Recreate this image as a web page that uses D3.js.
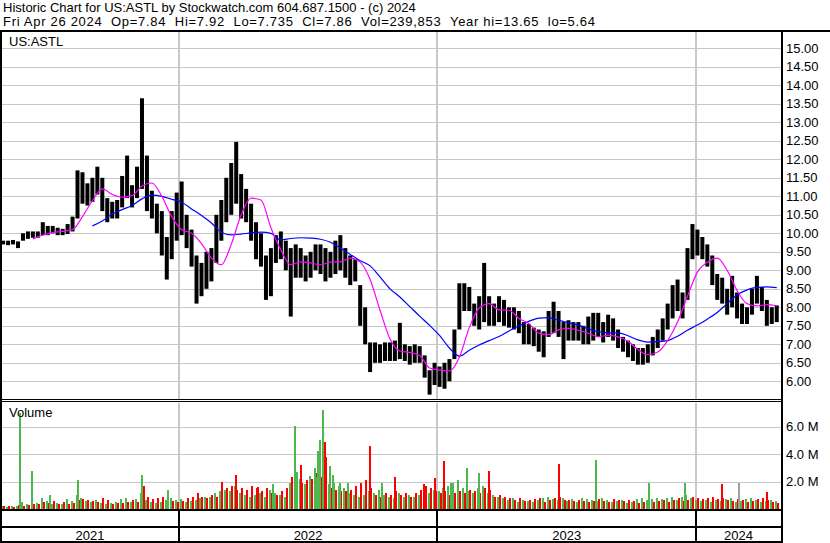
<!DOCTYPE html>
<html><head><meta charset="utf-8">
<script src="https://cdn.jsdelivr.net/npm/d3@7"></script>
<style>
html,body{margin:0;padding:0;background:#fff;}
svg{display:block;font-family:"Liberation Sans",Arial,sans-serif;}
</style></head><body>
<svg id="c" width="830" height="543"></svg>
<script>
// ---------------- DATA ----------------
const headerLines = [
  "Historic Chart for US:ASTL by Stockwatch.com 604.687.1500 - (c) 2024",
  "Fri Apr 26 2024\u00A0\u00A0Op=7.84\u00A0\u00A0Hi=7.92\u00A0\u00A0Lo=7.735\u00A0\u00A0Cl=7.86\u00A0\u00A0Vol=239,853\u00A0\u00A0Year hi=13.65\u00A0\u00A0lo=5.64"
];
const headerWidths = [null, 592];
const symbol = "US:ASTL";
const firstWeek = "2021-04-26";   // Monday of first weekly bar
const weekCount = 157;
const weekLow = [
 9.70,9.68,9.70,9.60,9.80,9.85,9.88,9.88,9.95,9.95,
 10.00,9.95,9.95,9.98,10.05,10.40,10.80,10.75,10.85,11.05,
 10.60,10.30,10.40,10.40,10.70,10.95,10.70,10.95,11.20,10.60,
 10.40,10.00,9.40,8.75,9.30,9.80,9.95,9.60,9.10,8.10,
 8.30,8.50,8.70,9.20,9.80,10.30,10.50,10.80,10.40,10.30,
 9.80,9.30,9.10,8.20,8.30,9.20,9.30,9.00,7.75,8.80,
 8.80,8.70,8.80,9.00,8.90,8.70,8.80,8.90,9.00,8.80,
 8.60,8.70,7.50,7.00,6.25,6.50,6.50,6.55,6.55,6.55,
 6.60,6.55,6.45,6.50,6.50,6.10,5.64,5.90,5.85,5.80,
 6.00,6.60,7.40,7.90,7.90,7.50,7.40,7.60,7.50,7.50,
 7.60,7.50,7.45,7.40,7.30,7.00,7.00,6.95,6.80,6.65,
 7.20,7.30,7.20,6.60,7.10,7.10,7.10,7.00,7.00,7.10,
 7.20,7.05,7.20,7.10,6.90,6.80,6.65,6.55,6.45,6.45,
 6.50,6.70,6.90,7.10,7.40,7.70,7.90,7.70,8.20,9.30,
 9.40,9.30,9.10,8.60,8.20,8.10,7.80,8.00,7.70,7.55,
 7.55,7.80,8.10,7.90,7.50,7.55,7.60];
const weekHigh = [
 9.80,9.80,9.82,9.78,10.00,10.05,10.05,10.05,10.30,10.20,
 10.20,10.15,10.12,10.25,10.45,11.70,11.65,11.35,11.50,11.80,
 11.50,10.95,10.85,10.90,11.55,12.10,11.30,11.80,13.65,12.10,
 11.15,10.80,10.60,9.90,10.60,11.10,11.40,10.50,10.10,9.40,
 9.20,9.50,9.60,10.50,10.90,11.50,11.90,12.47,11.60,11.20,
 10.80,10.30,10.00,9.40,9.60,9.95,10.05,9.80,9.60,9.70,
 9.60,9.40,9.50,9.70,9.70,9.60,9.50,9.80,9.95,9.60,
 9.40,9.30,8.60,8.00,7.05,7.05,7.00,7.05,7.05,7.10,
 7.58,7.00,6.95,7.00,6.95,6.70,6.30,6.50,6.40,6.50,
 6.60,7.40,8.65,8.65,8.55,8.10,8.30,9.20,8.30,8.10,
 8.30,8.20,8.00,8.00,7.90,7.60,7.55,7.45,7.40,7.35,
 7.90,8.15,7.90,7.60,7.65,7.60,7.60,7.50,7.75,7.85,
 7.85,7.60,7.80,7.70,7.40,7.20,7.10,7.00,6.90,6.90,
 7.00,7.20,7.40,7.70,8.10,8.60,8.75,8.40,9.60,10.25,
 10.10,9.90,9.70,9.40,8.90,8.80,8.50,8.85,8.40,8.10,
 8.00,8.50,8.85,8.55,8.20,8.00,8.05];
// typical daily volume (millions) on up days / down days, per week
const volUp = [
 0.20,0.15,0.25,0.20,0.50,0.40,0.65,0.45,0.80,0.60,
 0.40,0.45,0.40,0.70,0.60,1.05,0.80,0.60,0.50,0.65,
 0.45,0.40,0.45,0.50,0.70,0.80,0.50,0.70,1.15,0.65,
 0.50,0.45,0.50,0.65,0.80,0.65,0.70,0.50,0.60,0.65,
 0.80,0.90,0.85,1.15,1.30,1.40,1.30,1.70,1.15,1.05,
 0.90,1.05,1.15,0.90,1.40,1.15,1.05,0.90,1.90,2.10,
 2.20,1.80,2.40,3.00,2.60,2.30,1.80,1.90,1.70,1.55,
 1.15,1.05,0.90,1.05,1.30,1.15,1.40,1.05,0.90,0.80,
 1.15,0.90,1.05,0.90,1.05,0.90,1.15,1.40,1.30,1.55,
 1.70,1.90,2.10,1.55,1.30,1.15,1.55,1.70,1.15,1.05,
 0.90,0.80,0.65,0.80,0.50,0.65,0.60,0.50,0.65,0.80,
 0.90,0.70,0.65,0.80,0.60,0.70,0.50,0.80,0.70,0.65,
 0.60,0.80,0.65,0.50,0.60,0.65,0.45,0.50,0.70,0.80,
 0.65,0.70,0.80,0.70,0.80,0.90,0.65,0.85,1.05,0.80,
 0.65,0.60,0.65,0.50,0.65,0.60,0.70,0.80,0.50,0.60,
 0.70,0.80,0.65,0.50,0.60,0.65,0.60];
const volDown = [
 0.25,0.20,0.15,0.30,0.25,0.30,0.40,0.40,0.50,0.45,
 0.60,0.40,0.50,0.40,0.45,0.65,0.70,0.65,0.60,0.50,
 0.80,0.65,0.40,0.45,0.45,0.50,0.65,0.50,0.90,0.85,
 0.70,0.80,0.90,1.05,0.60,0.50,0.60,0.80,0.90,1.15,
 0.90,0.80,1.00,0.90,1.15,1.55,1.70,1.40,1.55,1.40,
 1.70,1.55,1.30,1.55,1.15,1.05,1.30,1.55,2.30,2.50,
 1.90,2.10,2.20,2.60,2.30,1.80,1.55,1.40,1.30,1.30,
 1.40,1.70,1.90,2.10,1.55,1.05,0.90,1.15,1.05,1.30,
 1.05,1.15,0.90,1.15,1.40,1.70,1.55,1.30,1.15,1.30,
 1.05,1.15,1.30,1.15,1.40,1.30,1.15,1.55,1.40,0.90,
 1.05,0.90,0.80,0.65,0.80,0.60,0.65,0.70,0.80,0.50,
 0.65,0.80,0.90,0.65,0.65,0.60,0.65,0.60,0.50,0.60,
 0.70,0.60,0.50,0.70,0.65,0.60,0.65,0.60,0.45,0.50,
 0.60,0.50,0.60,0.65,0.50,0.65,0.80,0.60,0.65,0.90,
 0.80,0.70,0.80,0.85,0.70,0.80,0.65,0.60,0.70,0.65,
 0.50,0.60,0.70,0.80,0.65,0.50,0.45];
// single-day volume spikes
const spikeDates = ["2021-05-21","2021-06-07","2021-07-02","2021-08-10","2021-11-09","2021-11-12","2021-12-15",
 "2022-03-02","2022-03-21","2022-04-21","2022-05-12","2022-06-13","2022-06-15","2022-06-21","2022-07-12",
 "2022-07-15","2022-07-18","2022-07-22","2022-07-25","2022-07-26","2022-08-01","2022-08-05","2022-08-15",
 "2022-08-26","2022-09-14","2022-09-26","2022-10-13","2022-11-01","2022-12-12","2022-12-27","2023-01-09",
 "2023-01-19","2023-02-10","2023-02-28","2023-03-14","2023-06-20","2023-08-11","2023-10-25","2023-12-15",
 "2024-02-06","2024-02-29","2024-04-09"];
const spikeVols = [7.0,2.8,1.05,2.1,2.45,1.7,1.35,
 2.0,2.45,1.6,1.85,6.07,2.7,3.2,2.3,
 4.2,5.05,7.2,4.9,3.75,3.1,2.5,1.9,
 1.9,1.9,4.6,1.9,2.35,1.8,2.25,3.5,
 1.9,3.0,2.6,2.8,3.25,3.55,1.9,1.9,
 1.85,1.9,1.25];
const spikeDirs = ["up","up","up","up","up","down","up",
 "down","down","down","up","up","up","down","up",
 "up","up","up","down","down","up","up","up",
 "up","down","down","up","down","down","down","down",
 "up","up","up","down","down","up","up","up",
 "down","flat","down"];
// moving averages, sampled every 2 weeks
const maShortFromWeek = 6;
const maShort = [
 9.85,9.95,10.02,10.05,10.10,10.45,10.88,11.20,11.05,10.98,
 11.02,11.28,11.36,11.00,10.45,10.10,10.00,9.72,9.33,9.15,
 9.70,10.50,10.95,10.90,10.15,9.55,9.15,9.23,9.20,9.15,
 9.22,9.23,9.33,9.22,8.75,7.92,7.15,6.82,6.78,6.70,
 6.36,6.30,6.28,6.65,7.45,7.98,8.10,7.93,7.92,7.70,
 7.56,7.30,7.26,7.39,7.43,7.38,7.30,7.20,7.25,7.20,
 7.08,6.86,6.72,6.79,7.10,7.60,8.30,8.95,9.22,9.33,
 9.00,8.45,8.10,8.04,8.07,8.04];
const maLongFromWeek = 18;
const maLong = [
 10.20,10.33,10.52,10.64,10.75,10.93,11.03,11.00,10.92,10.84,
 10.66,10.48,10.28,10.03,9.96,9.98,10.01,10.03,10.00,9.82,
 9.86,9.88,9.87,9.84,9.76,9.60,9.43,9.26,9.12,8.82,
 8.50,8.28,8.02,7.76,7.51,7.24,6.90,6.68,6.84,6.98,
 7.10,7.21,7.36,7.50,7.62,7.71,7.72,7.65,7.58,7.52,
 7.42,7.34,7.31,7.31,7.23,7.12,7.06,7.07,7.10,7.22,
 7.38,7.52,7.68,7.86,8.10,8.33,8.47,8.54,8.55,8.53];
const priceTicks = [6,6.5,7,7.5,8,8.5,9,9.5,10,10.5,11,11.5,12,12.5,13,13.5,14,14.5,15];
const volTicks = [2,4,6];
const yearLabels = ["2021","2022","2023","2024"];

// ---------------- CHART ----------------
const parse = d3.utcParse("%Y-%m-%d");
const svg = d3.select("#c");
const W = 830, H = 543;
const axisX = 781;
const priceTop = 32, priceBot = 399, volTop = 403, volBot = 509;

const x = d3.scaleUtc().domain([parse("2021-04-25"), parse("2024-04-30")]).range([1, axisX]);
const y = d3.scaleLinear().domain([5.5216, 15.4405]).range([priceBot, priceTop]);
const yv = d3.scaleLinear().domain([0, 7.71]).range([volBot, volTop]);

const weeks = d3.range(weekCount).map(i => ({
  date: d3.utcDay.offset(parse(firstWeek), 7 * i + 2),
  lo: weekLow[i], hi: weekHigh[i], up: volUp[i], dn: volDown[i]
}));

const grid = "#c8c8c8";
svg.append("rect").attr("width", W).attr("height", H).attr("fill", "#fff");

const defs = svg.append("defs");
defs.append("clipPath").attr("id", "cp").append("rect").attr("x", 2).attr("y", priceTop).attr("width", axisX - 2).attr("height", priceBot - priceTop);
defs.append("clipPath").attr("id", "cv").append("rect").attr("x", 2).attr("y", volTop).attr("width", axisX - 2).attr("height", volBot - volTop);

const years = d3.utcYear.range(x.domain()[0], x.domain()[1]).filter(d => x(d) > 5);

// grids
const gp = svg.append("g").attr("shape-rendering", "crispEdges");
gp.selectAll("line.h").data(priceTicks).join("line")
  .attr("x1", 2).attr("x2", axisX).attr("y1", d => Math.round(y(d)) + 0.5).attr("y2", d => Math.round(y(d)) + 0.5)
  .attr("stroke", grid);
gp.selectAll("line.v").data(years).join("line")
  .attr("x1", d => Math.round(x(d)) - 0.5).attr("x2", d => Math.round(x(d)) - 0.5)
  .attr("y1", priceTop).attr("y2", priceBot).attr("stroke", grid).attr("stroke-width", 2);
gp.selectAll("line.vh").data(volTicks).join("line")
  .attr("x1", 2).attr("x2", axisX).attr("y1", d => Math.round(yv(d)) + 0.5).attr("y2", d => Math.round(yv(d)) + 0.5)
  .attr("stroke", grid);
gp.selectAll("line.vv").data(years).join("line")
  .attr("x1", d => Math.round(x(d)) - 0.5).attr("x2", d => Math.round(x(d)) - 0.5)
  .attr("y1", volTop).attr("y2", volBot).attr("stroke", grid).attr("stroke-width", 2);

// volume bars
const gv = svg.append("g").attr("clip-path", "url(#cv)").attr("shape-rendering", "crispEdges");
gv.selectAll("rect.u").data(weeks).join("rect")
  .attr("x", d => x(d.date) - 2).attr("width", 2)
  .attr("y", d => yv(d.up)).attr("height", d => volBot - yv(d.up)).attr("fill", "#4db84d");
gv.selectAll("rect.d").data(weeks).join("rect")
  .attr("x", d => x(d.date)).attr("width", 2)
  .attr("y", d => yv(d.dn)).attr("height", d => volBot - yv(d.dn)).attr("fill", "#ff0000");
const spikeColor = {up: "#4db84d", down: "#ff0000", flat: "#a0a0a0"};
gv.selectAll("rect.s").data(spikeDates.map((d, i) => ({date: parse(d), v: spikeVols[i], dir: spikeDirs[i]}))).join("rect")
  .attr("x", d => Math.round(x(d.date))).attr("width", 2)
  .attr("y", d => yv(d.v)).attr("height", d => volBot - yv(d.v)).attr("fill", d => spikeColor[d.dir]);

// price bars
const gb = svg.append("g").attr("clip-path", "url(#cp)");
gb.selectAll("rect").data(weeks).join("rect")
  .attr("x", d => x(d.date) - 2).attr("width", 4)
  .attr("y", d => y(d.hi)).attr("height", d => Math.max(1, y(d.lo) - y(d.hi)))
  .attr("fill", "#000");

// moving averages
const line = d3.line().x(d => x(d.date)).y(d => y(d.v)).curve(d3.curveMonotoneX);
const maS = maShort.map((v, i) => ({date: weeks[maShortFromWeek + 2 * i].date, v}));
const maL = maLong.map((v, i) => ({date: weeks[maLongFromWeek + 2 * i].date, v}));
gb.append("path").datum(maL).attr("d", line).attr("fill", "none").attr("stroke", "#0000ff").attr("stroke-width", 1.2);
gb.append("path").datum(maS).attr("d", line).attr("fill", "none").attr("stroke", "#ff00ff").attr("stroke-width", 1.2);

// frames
const fr = svg.append("g").attr("fill", "#000").attr("shape-rendering", "crispEdges");
fr.append("rect").attr("x", 0).attr("y", 30).attr("width", W).attr("height", 2);
fr.append("rect").attr("x", 0).attr("y", 30).attr("width", 2).attr("height", H - 30);
fr.append("rect").attr("x", axisX).attr("y", 30).attr("width", 2).attr("height", H - 30);
fr.append("rect").attr("x", 0).attr("y", 399).attr("width", axisX).attr("height", 1);
fr.append("rect").attr("x", 0).attr("y", 401).attr("width", axisX).attr("height", 1);
fr.append("rect").attr("x", 0).attr("y", 509).attr("width", axisX).attr("height", 2);
fr.append("rect").attr("x", 0).attr("y", 526).attr("width", axisX).attr("height", 2);
fr.append("rect").attr("x", 0).attr("y", 541).attr("width", axisX + 2).attr("height", 2);
fr.selectAll("rect.ys").data(years).join("rect")
  .attr("x", d => Math.round(x(d)) - 1).attr("y", 509).attr("width", 2).attr("height", H - 509);

// axes
const ay = svg.append("g").attr("transform", `translate(${axisX + 1},0)`)
  .call(d3.axisRight(y).tickValues(priceTicks).tickFormat(d3.format(".2f")).tickSize(0).tickPadding(4));
const av = svg.append("g").attr("transform", `translate(${axisX + 1},0)`)
  .call(d3.axisRight(yv).tickValues(volTicks).tickFormat(d => d.toFixed(1) + " M").tickSize(0).tickPadding(4));
[ay, av].forEach(g => {
  g.select(".domain").remove();
  g.selectAll("text").attr("font-size", 13).attr("font-family", "Liberation Sans, Arial, sans-serif").attr("fill", "#000");
});

// year labels
const bounds = [x.range()[0]].concat(years.map(d => x(d))).concat([axisX]);
svg.append("g").selectAll("text").data(yearLabels).join("text")
  .attr("x", (d, i) => (bounds[i] + bounds[i + 1]) / 2).attr("y", 540)
  .attr("text-anchor", "middle").attr("font-size", 13).text(d => d);

// header
svg.append("g").selectAll("text").data(headerLines).join("text")
  .attr("x", 3).attr("y", (d, i) => i === 0 ? 11.8 : 26.4)
  .attr("font-size", 13)
  .each(function(d, i) { if (headerWidths[i]) d3.select(this).attr("textLength", headerWidths[i]).attr("lengthAdjust", "spacing"); })
  .text(d => d);
svg.append("text").attr("x", 9).attr("y", 46).attr("font-size", 13).text(symbol);
svg.append("text").attr("x", 9).attr("y", 417).attr("font-size", 13).text("Volume");
</script>
</body></html>
